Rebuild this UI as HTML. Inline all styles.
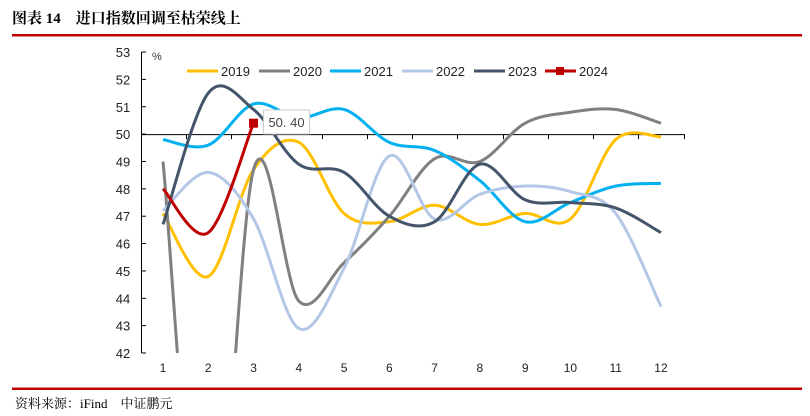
<!DOCTYPE html>
<html style="margin:0;width:810px;height:416px;overflow:hidden"><head><meta charset="utf-8"><style>
html,body{margin:0;padding:0;width:810px;height:416px;overflow:hidden}
body{background:#fff;font-family:"Liberation Sans","Noto Sans CJK SC",sans-serif}
svg{display:block}
</style></head><body>
<svg width="810" height="416">
<text x="12" y="23" font-size="15" font-weight="bold" font-family="'Liberation Serif','Noto Serif CJK SC',serif">图表 14　进口指数回调至枯荣线上</text>
<rect x="12" y="34" width="790" height="2.5" fill="#c00000"/>
<rect x="12" y="387.5" width="790" height="2.5" fill="#c00000"/>
<text x="15" y="408" font-size="13" font-family="'Liberation Serif','Noto Serif CJK SC',serif">资料来源：iFind　中证鹏元</text>
<text x="152" y="60" font-size="11" fill="#333">%</text>
<g id="axes"></g>
<defs><clipPath id="pc"><rect x="141" y="40" width="560" height="313"/></clipPath></defs>
<g id="series" clip-path="url(#pc)"></g>
<g id="legend"></g>
<g id="label"></g>
</svg>
<script>
const months=[1,2,3,4,5,6,7,8,9,10,11,12];
const yTicks=[42,43,44,45,46,47,48,49,50,51,52,53];
const s2019=[47.1,44.8,48.7,49.7,47.1,46.8,47.4,46.7,47.1,46.9,49.8,49.9];
const s2020=[49.0,31.9,48.7,43.9,45.3,47.0,49.1,49.0,50.4,50.8,50.9,50.4];
const s2021=[49.8,49.6,51.1,50.6,50.9,49.7,49.4,48.3,46.8,47.5,48.1,48.2];
const s2022=[47.2,48.6,46.9,42.9,45.1,49.2,46.9,47.8,48.1,47.9,47.1,43.7];
const s2023=[46.7,51.5,50.9,48.9,48.6,47.0,46.8,48.9,47.6,47.5,47.3,46.4];
const s2024=[48.0,46.4,50.4];
const seriesNames=["2019","2020","2021","2022","2023","2024"];
const NS="http://www.w3.org/2000/svg";
const x=m=>163+(m-1)*45.27;
const y=v=>353-(v-42)*27.36;
function mk(tag,attrs,parent){const e=document.createElementNS(NS,tag);for(const k in attrs)e.setAttribute(k,attrs[k]);parent.appendChild(e);return e;}
const axes=document.getElementById('axes');
let a=mk('line',{x1:141.5,y1:y(53),x2:141.5,y2:353,stroke:'#000'},axes);


yTicks.forEach(t=>{
 mk('line',{x1:141.5,y1:y(t),x2:146,y2:y(t),stroke:'#000'},axes);
 const tx=mk('text',{x:123,y:y(t)+5,'font-size':13,fill:'#222','text-anchor':'middle'},axes);tx.textContent=t;
 
 
});
a=mk('line',{x1:141,y1:y(50)+0.5,x2:684,y2:y(50)+0.5,stroke:'#000'},axes);


for(let i=0;i<=12;i++){const xx=Math.round(140.5+i*45.27)+0.5;mk('line',{x1:xx,y1:y(50),x2:xx,y2:y(50)+5,stroke:'#000'},axes);}
months.forEach(m=>{const tx=mk('text',{x:x(m),y:372,'font-size':12,fill:'#222','text-anchor':'middle'},axes);tx.textContent=m;
 
 });
const FLOOR=358;
function path(vals){const p=vals.map((v,i)=>[x(i+1),y(v)]);let d='';let prev=null;
 const pt=(px,py)=>{
  if(prev){const [qx,qy]=prev;
   if(qy<=FLOOR&&py<=FLOOR){d+='L'+px.toFixed(2)+','+py.toFixed(2);}
   else if(qy<=FLOOR&&py>FLOOR){const f=(FLOOR-qy)/(py-qy);d+='L'+(qx+(px-qx)*f).toFixed(2)+','+FLOOR;}
   else if(qy>FLOOR&&py<=FLOOR){const f=(FLOOR-qy)/(py-qy);d+='M'+(qx+(px-qx)*f).toFixed(2)+','+FLOOR+'L'+px.toFixed(2)+','+py.toFixed(2);}
  } else if(py<=FLOOR){d+='M'+px.toFixed(2)+','+py.toFixed(2);}
  prev=[px,py];};
 pt(p[0][0],p[0][1]);
 for(let i=0;i<p.length-1;i++){const p0=p[i-1]||p[i],p1=p[i],p2=p[i+1],p3=p[i+2]||p2;const t=1/6;
  const c1=[p1[0]+(p2[0]-p0[0])*t,p1[1]+(p2[1]-p0[1])*t],c2=[p2[0]-(p3[0]-p1[0])*t,p2[1]-(p3[1]-p1[1])*t];
  for(let k=1;k<=200;k++){const u=k/200,w=1-u;
   const bx=w*w*w*p1[0]+3*w*w*u*c1[0]+3*w*u*u*c2[0]+u*u*u*p2[0];
   const by=w*w*w*p1[1]+3*w*w*u*c1[1]+3*w*u*u*c2[1]+u*u*u*p2[1];
   pt(bx,by);}}
 return d;}
const colors=['#ffc000','#808080','#00b0f0','#b4c7e7','#44546a','#c00000'];
const allS=[s2019,s2020,s2021,s2022,s2023,s2024];
const sg=document.getElementById('series');
allS.forEach((s,i)=>{const p=mk('path',{d:path(s),fill:'none',stroke:colors[i],'stroke-width':3,'stroke-linejoin':'round'},sg);
 
 });
const last=s2024.length;
const mkr=mk('rect',{x:x(last)-4.5,y:y(s2024[last-1])-4.5,width:9,height:9,fill:'#c00000'},document.getElementById('label'));


const lg=document.getElementById('label');
const bx=x(last)+10;
const br=mk('rect',{x:bx,y:110,width:46,height:24,fill:'#fff',stroke:'#ccc'},lg);


const lt=mk('text',{x:bx+23,y:127,'font-size':13,fill:'#444','text-anchor':'middle'},lg);lt.textContent=s2024[last-1].toFixed(2).replace('.','. ');


const leg=document.getElementById('legend');
const lx=[187,259,330,402,474,545];
seriesNames.forEach((n,i)=>{const g=mk('g',{},leg);
 
 
 mk('line',{x1:lx[i],y1:71,x2:lx[i]+31,y2:71,stroke:colors[i],'stroke-width':3},g);
 if(i===5)mk('rect',{x:lx[i]+11,y:67,width:8,height:8,fill:colors[i]},g);
 const t=mk('text',{x:lx[i]+34,y:76,'font-size':13,fill:'#222'},g);t.textContent=n;});
</script>
</body></html>
